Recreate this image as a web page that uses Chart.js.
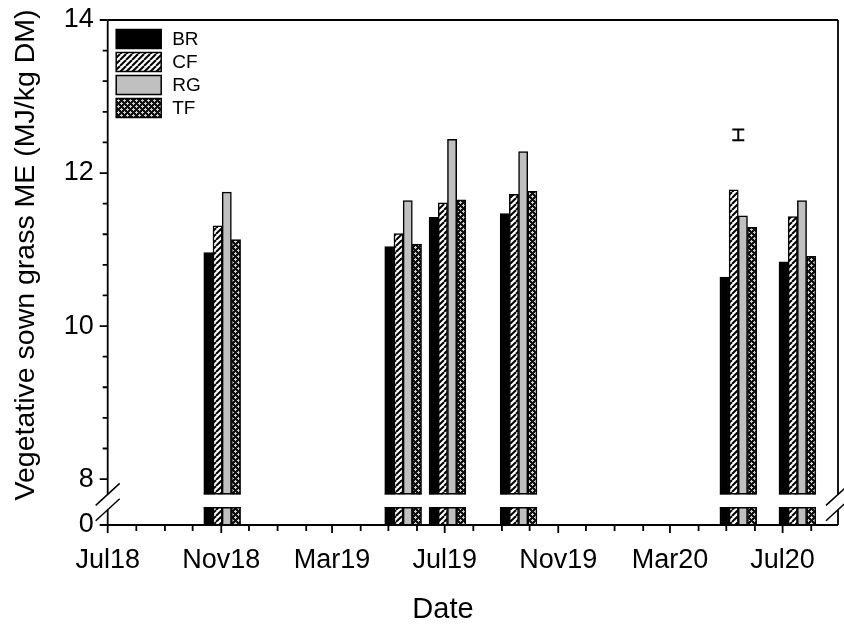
<!DOCTYPE html>
<html><head><meta charset="utf-8">
<script src="https://cdn.jsdelivr.net/npm/chart.js@4"></script>
<style>html,body{margin:0;padding:0;background:#fff}#wrap{width:844px;height:629px}</style>
</head><body><div id="wrap"><canvas id="c" width="844" height="629"></canvas></div>
<script>
// ---------- data ----------
const sampleDates = ['2018-11-02','2019-05-17','2019-07-04','2019-09-19','2020-05-14','2020-07-17'];
const seriesNames = ['BR','CF','RG','TF'];
const BR = [10.96, 11.04, 11.42, 11.47, 10.64, 10.84];
const CF = [11.31, 11.21, 11.61, 11.72, 11.78, 11.43];
const RG = [11.75, 11.64, 12.44, 12.28, 11.44, 11.64];
const TF = [11.13, 11.07, 11.65, 11.76, 11.29, 10.91];
const lsdDate = '2020-05-14';
const lsdValue = 12.50;
const lsdHalf = 0.07;
const xTickLabels = ['Jul18','Nov18','Mar19','Jul19','Nov19','Mar20','Jul20'];
const xTickDates  = ['2018-07-01','2018-11-01','2019-03-01','2019-07-01','2019-11-01','2020-03-01','2020-07-01'];
const xRange = ['2018-07-01','2020-08-30'];
const yTickLabels = ['0','8','10','12','14'];
const yTickValues = [0, 8, 10, 12, 14];
const yMinorStep = 0.4;
const xTitle = 'Date';
const yTitle = 'Vegetative sown grass ME (MJ/kg DM)';
// broken axis: lower segment shows 0, upper segment 7.8..14
const UPPER_START = 7.8, UPPER_END = 14, LOWER_DISPLAY_BOTTOM = 7.4, LOWER_DISPLAY_TOP = 7.635;

const ts = d => Date.parse(d);
const toDisplay = v => (v >= UPPER_START ? v : LOWER_DISPLAY_BOTTOM + v);
const values = [BR, CF, RG, TF];

// ---------- fills ----------
function makePattern(size, draw){
  const c = document.createElement('canvas'); c.width = size; c.height = size;
  const g = c.getContext('2d'); draw(g, size);
  return document.getElementById('c').getContext('2d').createPattern(c, 'repeat');
}
const hatch = makePattern(6, (g, s) => {
  g.fillStyle = '#fff'; g.fillRect(0,0,s,s);
  g.strokeStyle = '#000'; g.lineWidth = 2;
  [-s, 0, s].forEach(dx => { g.beginPath(); g.moveTo(dx, s); g.lineTo(dx + s, 0); g.stroke(); });
});
const cross = makePattern(6, (g, s) => {
  g.fillStyle = '#111'; g.fillRect(0,0,s,s);
  g.fillStyle = '#cfcfcf';
  [[1,1],[4,4]].forEach(([cx,cy]) => {
    g.fillRect(cx,cy-1,1,3); g.fillRect(cx-1,cy,3,1);
  });
});
const fills = ['#000000', hatch, '#c0c0c0', cross];

const FONT = "'Liberation Sans', Arial, sans-serif";

// ---------- custom drawing ----------
const framePlugin = {
  id: 'frame',
  afterDatasetsDraw(chart){
    const {ctx, chartArea: ca, scales: {x, y}} = chart;
    const L = ca.left, R = ca.right, T = ca.top, B = ca.bottom;
    const yA = y.getPixelForValue(UPPER_START);
    const yB = y.getPixelForValue(LOWER_DISPLAY_TOP);
    ctx.save();
    // gap band
    ctx.fillStyle = '#fff';
    ctx.fillRect(L + 1, yA, R - L - 2, yB - yA);
    // bar edges at the break
    ctx.strokeStyle = '#000'; ctx.lineWidth = 1.5;
    chart.data.datasets.forEach((ds, i) => {
      chart.getDatasetMeta(i).data.forEach(el => {
        const {x: bx, width: bw} = el.getProps(['x','width'], true);
        ctx.beginPath();
        ctx.moveTo(bx - bw/2, yA - 0.75); ctx.lineTo(bx + bw/2, yA - 0.75);
        ctx.moveTo(bx - bw/2, yB + 0.75); ctx.lineTo(bx + bw/2, yB + 0.75);
        ctx.stroke();
      });
    });
    // LSD error bar
    const ex = x.getPixelForValue(ts(lsdDate));
    const e1 = y.getPixelForValue(lsdValue + lsdHalf), e2 = y.getPixelForValue(lsdValue - lsdHalf);
    ctx.lineWidth = 2;
    ctx.beginPath();
    ctx.moveTo(ex, e1); ctx.lineTo(ex, e2);
    ctx.moveTo(ex - 6, e1); ctx.lineTo(ex + 6, e1);
    ctx.moveTo(ex - 6, e2); ctx.lineTo(ex + 6, e2);
    ctx.stroke();
    // frame
    ctx.lineWidth = 1.8; ctx.lineCap = 'butt';
    const yBm = y.getPixelForValue(7.6);
    ctx.beginPath();
    ctx.moveTo(L, T); ctx.lineTo(R, T);
    ctx.moveTo(L, B); ctx.lineTo(R, B);
    ctx.moveTo(L, T); ctx.lineTo(L, yA);
    ctx.moveTo(L, yBm); ctx.lineTo(L, B);
    ctx.moveTo(R, T); ctx.lineTo(R, yA);
    ctx.moveTo(R, yBm); ctx.lineTo(R, B);
    ctx.stroke();
    // break marks
    ctx.lineWidth = 1.5;
    [L, R].forEach(ax => {
      [yA, yBm].forEach(yc => {
        ctx.beginPath(); ctx.moveTo(ax - 12, yc + 11); ctx.lineTo(ax + 12, yc - 11); ctx.stroke();
      });
    });
    // y ticks
    ctx.lineWidth = 1.8;
    ctx.beginPath();
    yTickValues.forEach(v => { const p = y.getPixelForValue(toDisplay(v)); ctx.moveTo(L, p); ctx.lineTo(L - 8, p); });
    for (let k = 0; 8 + k * yMinorStep <= UPPER_END + 1e-9; k++) {
      const p = y.getPixelForValue(8 + k * yMinorStep);
      ctx.moveTo(L, p); ctx.lineTo(L - 5, p);
    }
    // x ticks (monthly)
    const majors = xTickDates.map(ts);
    for (let m = 0; ; m++) {
      const t = Date.UTC(2018, 6 + m, 1);
      if (t > x.max) break;
      const p = x.getPixelForValue(t);
      const len = majors.includes(t) ? 8 : 6;
      ctx.moveTo(p, B); ctx.lineTo(p, B + len);
    }
    ctx.stroke();
    ctx.restore();
  },
  afterDraw(chart){
    const {ctx, chartArea: ca} = chart;
    ctx.save();
    // legend
    chart.data.datasets.forEach((ds, i) => {
      const bx = ca.left + 8.5, by = ca.top + 9.5 + i * 23;
      ctx.fillStyle = ds.backgroundColor;
      ctx.fillRect(bx, by, 45, 19);
      ctx.strokeStyle = '#000'; ctx.lineWidth = 1.5;
      ctx.strokeRect(bx, by, 45, 19);
      ctx.fillStyle = '#000';
      ctx.font = '19px ' + FONT;
      ctx.textAlign = 'left'; ctx.textBaseline = 'middle';
      ctx.fillText(ds.label, bx + 56, by + 10);
    });
    // x axis title
    ctx.font = '29px ' + FONT;
    ctx.textAlign = 'center'; ctx.textBaseline = 'middle'; ctx.fillStyle = '#000';
    ctx.fillText(xTitle, 443, 610);
    // y axis title
    ctx.translate(26, 255);
    ctx.rotate(-Math.PI / 2);
    ctx.font = '28.5px ' + FONT;
    ctx.fillText(yTitle, 0, 0);
    ctx.restore();
  }
};

new Chart(document.getElementById('c'), {
  type: 'bar',
  data: {
    datasets: seriesNames.map((name, k) => ({
      label: name,
      data: sampleDates.map((d, i) => ({x: ts(d), y: values[k][i]})),
      backgroundColor: fills[k],
      borderColor: '#000',
      borderWidth: 1.5,
      borderSkipped: false,
      barThickness: 9.2
    }))
  },
  options: {
    responsive: false, animation: false, devicePixelRatio: 1,
    layout: {padding: {top: 20, right: 6, left: 0, bottom: 0}},
    plugins: {legend: {display: false}, tooltip: {enabled: false}},
    scales: {
      x: {
        type: 'linear', offset: false,
        min: ts(xRange[0]), max: ts(xRange[1]),
        grid: {display: false, drawTicks: false}, border: {display: false},
        afterBuildTicks: s => { s.ticks = xTickDates.map(d => ({value: ts(d)})); },
        ticks: {autoSkip: false, maxRotation: 0, padding: 19, color: '#000',
                font: {family: FONT, size: 27},
                callback: (v, i) => xTickLabels[i]},
        afterFit: s => { s.height = 104; s.paddingLeft = 0; s.paddingRight = 0; }
      },
      y: {
        type: 'linear', min: LOWER_DISPLAY_BOTTOM, max: UPPER_END,
        grid: {display: false, drawTicks: false}, border: {display: false},
        afterBuildTicks: s => { s.ticks = yTickValues.map(v => ({value: toDisplay(v)})); },
        ticks: {autoSkip: false, padding: 14, color: '#000', font: {family: FONT, size: 27},
                callback: (v, i) => yTickLabels[i]},
        afterFit: s => { s.width = 107.7; s.paddingTop = 0; s.paddingBottom = 0; }
      }
    }
  },
  plugins: [framePlugin]
});
</script>
</body></html>
